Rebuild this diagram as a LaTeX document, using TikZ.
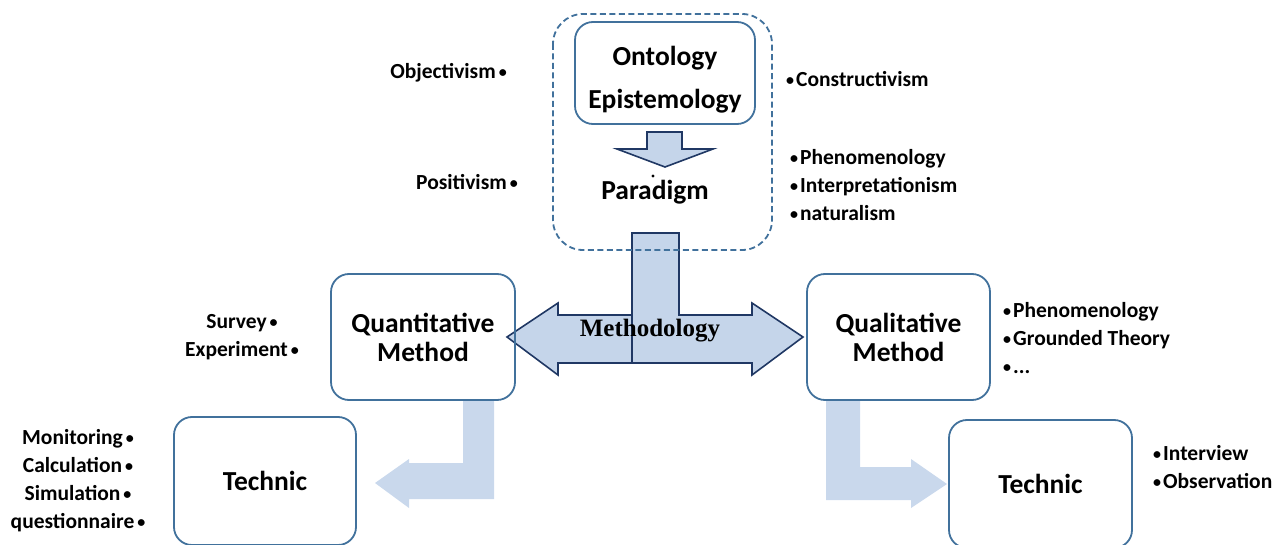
\documentclass[tikz,border=0pt]{standalone}
\usepackage{fontspec}
\setmainfont{Carlito}
\newfontfamily\methfont{Liberation Serif}
\definecolor{boxline}{HTML}{41719C}
\definecolor{navy}{HTML}{203864}
\definecolor{paleblue}{HTML}{C5D5EA}
\definecolor{fadeblue}{HTML}{C9D8EC}
\newcommand\bul{{\fontsize{16}{0}\selectfont\raisebox{1pt}{\textbullet}}}
\tikzset{
  roundbox/.style={draw=boxline,line width=1.8pt,rounded corners=18pt,inner sep=0pt,
    align=center,font=\fontsize{27.5}{29}\selectfont\bfseries},
  items/.style={inner sep=0pt,font=\fontsize{21.5}{28}\selectfont\bfseries},
  blockarrow/.style={fill=paleblue,draw=navy,line width=1.6pt,line join=miter},
  fadearrow/.style={fill=fadeblue,draw=none}
}
\begin{document}
\begin{tikzpicture}[x=1pt,y=-1pt]
  \clip (0,0) rectangle (1282,545);

  % faded bent arrows
  \fill[fadearrow] (463,401) -- (494,401) -- (494,499) -- (409,499) -- (409,508)
     -- (375,483) -- (409,459) -- (409,463) -- (463,463) -- cycle;
  \fill[fadearrow] (826,401) -- (860,401) -- (860,467) -- (911,467) -- (911,459)
     -- (947,484) -- (911,508) -- (911,500) -- (826,500) -- cycle;

  % methodology T arrow
  \fill[paleblue] (632,233) rectangle (679,363);
  \filldraw[blockarrow] (632,233) -- (679,233) -- (679,315) -- (752,315) -- (752,303)
     -- (803,337) -- (752,375) -- (752,363) -- (558,363) -- (558,375) -- (507,337)
     -- (558,303) -- (558,315) -- (632,315) -- cycle;
  \draw[navy,line width=1.6pt] (632,315) -- (632,363);
  \node[font=\methfont\fontsize{25}{25}\selectfont\bfseries] (meth) at (650,331) {Methodology};

  % philosophy part
  \draw[boxline,line width=1.8pt,dashed,dash pattern=on 6pt off 3.5pt,rounded corners=30pt]
     (553,14) rectangle (772,250);
  \node[roundbox,minimum width=180pt,minimum height=102pt,font=\fontsize{27.5}{43}\selectfont\bfseries]
     (onto) at (665,73) {\rule{0pt}{33pt}Ontology\\Epistemology};
  \filldraw[blockarrow] (647,132) -- (682,132) -- (682,149) -- (713,149) -- (665,167)
     -- (617,149) -- (647,149) -- cycle;
  \fill (653,176) circle (1.6pt);
  \node[font=\fontsize{27.5}{29}\selectfont\bfseries] (para) at (655,192) {Paradigm};

  \node[items,anchor=east] (obj) at (507,73) {Objectivism\hspace{3pt}\bul};
  \node[items,anchor=east] (pos) at (518,182) {Positivism\hspace{3pt}\bul};
  \node[items,anchor=west] (cons) at (786,79) {\bul\hspace{2pt}Constructivism};
  \node[items,anchor=west,align=left] (phen) at (790,185)
     {\bul\hspace{2pt}Phenomenology\\\bul\hspace{2pt}Interpretationism\\\bul\hspace{2pt}naturalism};

  % methods
  \node[roundbox,minimum width=184pt,minimum height=126pt] (quan) at (423,337) {Quantitative\\Method};
  \node[roundbox,minimum width=183pt,minimum height=126pt] (qual) at (898.5,337) {Qualitative\\Method};
  \node[items,align=center] (surv) at (242,337)
     {Survey\hspace{3pt}\bul\\Experiment\hspace{3pt}\bul};
  \node[items,anchor=west,align=left] (grnd) at (1003,338)
     {\bul\hspace{2pt}Phenomenology\\\bul\hspace{2pt}Grounded Theory\\\bul\hspace{2pt}...};

  % technics
  \node[roundbox,minimum width=182pt,minimum height=128pt] (tecl) at (265,481) {Technic};
  \node[roundbox,minimum width=183pt,minimum height=128pt] (tecr) at (1040.5,484) {Technic};
  \node[items,align=center] (moni) at (78,481)
     {Monitoring\hspace{3pt}\bul\\Calculation\hspace{3pt}\bul\\Simulation\hspace{3pt}\bul\\questionnaire\hspace{3pt}\bul};
  \node[items,anchor=west,align=left] (intv) at (1153,467)
     {\bul\hspace{2pt}Interview\\\bul\hspace{2pt}Observation};
\end{tikzpicture}
\end{document}
